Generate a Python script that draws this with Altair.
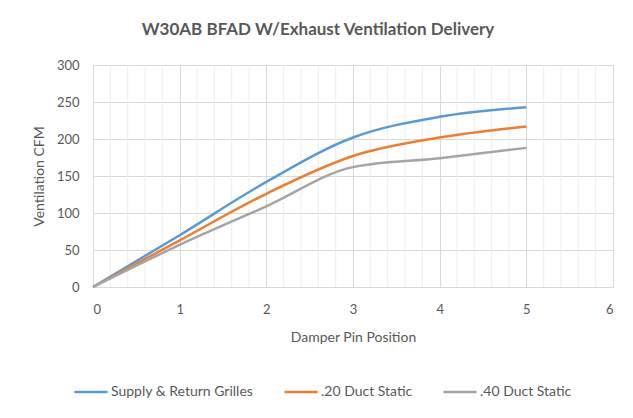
import altair as alt
import pandas as pd

positions = [0, 1, 2, 3, 4, 5]
supply_return = [0, 70, 142, 202, 230, 243]
duct_20 = [0, 63, 126, 177, 202, 217]
duct_40 = [0, 57, 109, 162, 174, 188]
series_names = ["Supply & Return Grilles", ".20 Duct Static", ".40 Duct Static"]
series_colors = ["#5B9BD5", "#ED7D31", "#A5A5A5"]
x_ticks = [0, 1, 2, 3, 4, 5, 6]
y_ticks = [0, 50, 100, 150, 200, 250, 300]
minor_x = [round(i * 0.2, 1) for i in range(31) if i % 5 != 0]

rows = []
for name, vals in zip(series_names, [supply_return, duct_20, duct_40]):
    for p, v in zip(positions, vals):
        rows.append({"pos": p, "cfm": v, "series": name})
df = pd.DataFrame(rows)
minor_df = pd.DataFrame({"pos": minor_x})

FONT = "Lato"
TXT = "#595959"

x_scale = alt.Scale(domain=[0, 6], nice=False)
y_scale = alt.Scale(domain=[0, 300], nice=False)
x_axis = alt.Axis(values=x_ticks, title="Damper Pin Position", grid=True,
                  gridColor="#d9d9d9", domain=False, ticks=False,
                  labelPadding=16, titlePadding=14)

minor = alt.Chart(minor_df).mark_rule(color="#ededed", strokeWidth=1).encode(
    x=alt.X("pos:Q", scale=x_scale, axis=x_axis),
)

lines = alt.Chart(df).mark_line(interpolate="monotone", strokeWidth=2.5).encode(
    x=alt.X("pos:Q", scale=x_scale, axis=x_axis),
    y=alt.Y("cfm:Q", scale=y_scale,
            axis=alt.Axis(values=y_ticks, title="Ventilation CFM", grid=True,
                          gridColor="#d9d9d9", domain=False, ticks=False,
                          labelPadding=14, titlePadding=10)),
    color=alt.Color("series:N",
                    scale=alt.Scale(domain=series_names, range=series_colors),
                    sort=series_names,
                    legend=alt.Legend(title=None, orient="none", direction="horizontal",
                                      legendX=-20, legendY=309, symbolType="stroke",
                                      symbolSize=1100, symbolStrokeWidth=2.5,
                                      labelFontSize=14, labelColor=TXT, labelFont=FONT,
                                      columnPadding=25, labelOffset=2,
                                      labelLimit=300)),
)

chart = alt.layer(minor, lines).properties(
    width=520, height=222,
    title=alt.TitleParams("W30AB BFAD W/Exhaust Ventilation Delivery", fontSize=17,
                          fontWeight="bold", color=TXT, font=FONT, anchor="middle",
                          dx=-35, offset=20),
    autosize=alt.AutoSizeParams(type="none"),
    padding={"left": 85, "top": 57, "right": 12, "bottom": 123},
).configure_view(stroke=None).configure_axis(
    labelFont=FONT, titleFont=FONT, labelColor=TXT, titleColor=TXT,
    labelFontSize=13, titleFontSize=14, titleFontWeight="normal",
)

chart.save("out.html", embed_options={"renderer": "svg", "actions": False})
